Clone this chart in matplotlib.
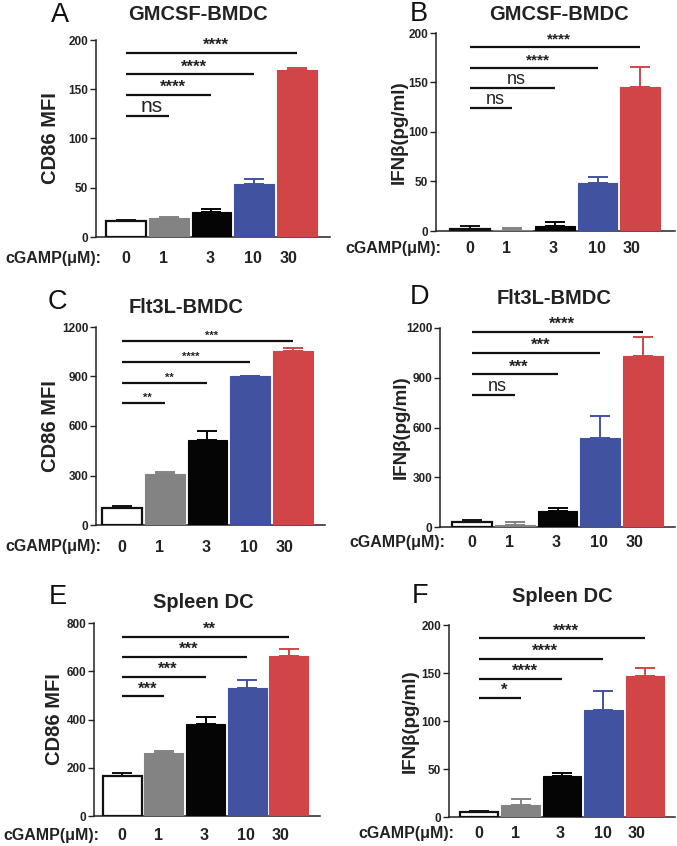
import numpy as np
import matplotlib
matplotlib.use("Agg")
import matplotlib.pyplot as plt

plt.rcParams['font.family'] = ['Liberation Sans', 'DejaVu Sans']

doses = ['0', '1', '3', '10', '30']
bar_colors = ['white', '#838383', '#050505', '#4152a0', '#d14546']
err_colors = ['#111111', '#838383', '#050505', '#4152a0', '#d14546']

# CD86 MFI / IFNb values (mean, upper error)
cd86_gm = [16, 19.5, 25.5, 54, 170]
cd86_gm_err = [1.5, 0.8, 3, 4.5, 2]
ifn_gm = [2.5, 1, 5.5, 48.5, 145.5]
ifn_gm_err = [2.5, 2, 3.5, 6.5, 20.5]
cd86_flt = [105, 309, 518, 902, 1057]
cd86_flt_err = [10, 12, 53, 4, 16]
ifn_flt = [32, 14, 97, 535, 1034]
ifn_flt_err = [12, 16, 16, 134, 113]
cd86_sp = [166, 260, 382, 530, 662]
cd86_sp_err = [14, 8, 29, 32, 29]
ifn_sp = [5.5, 13, 43, 111, 147]
ifn_sp_err = [1, 5.5, 2.5, 20.5, 8]

# significance brackets (height, label), bar 0 vs bar 1..4
sig_a = [123, 144, 165, 187]
sig_a_lab = ['ns', '****', '****', '****']
sig_b = [124, 144, 165, 186]
sig_b_lab = ['ns', 'ns', '****', '****']
sig_c = [740, 861, 990, 1115]
sig_c_lab = ['**', '**', '****', '***']
sig_d = [798, 921, 1050, 1178]
sig_d_lab = ['ns', '***', '***', '****']
sig_e = [496, 576, 659, 742]
sig_e_lab = ['***', '***', '***', '**']
sig_f = [124, 144, 165, 186]
sig_f_lab = ['*', '****', '****', '****']

W, H = 677, 846
fig = plt.figure(figsize=(W / 100, H / 100), dpi=100)

panels = [
    # letter, title, ylabel, vals, errs, sig, siglab, box(l,t,r,b), gaps, yticks,
    # star size, ns size, dose label y px, letter pos, title pos, ylabel centre offset px
    ('A', 'GMCSF-BMDC', 'CD86 MFI', cd86_gm, cd86_gm_err, sig_a, sig_a_lab,
     (96, 40, 330, 237), (10, 13), [0, 50, 100, 150, 200], 12, 15, 258, (60, 15), (198, 15), 46),
    ('B', 'GMCSF-BMDC', 'IFNβ(pg/ml)', ifn_gm, ifn_gm_err, sig_b, sig_b_lab,
     (436, 33, 675, 231), (14, 15), [0, 50, 100, 150, 200], 11, 13, 248, (419, 14), (559, 15), 38),
    ('C', 'Flt3L-BMDC', 'CD86 MFI', cd86_flt, cd86_flt_err, sig_c, sig_c_lab,
     (96, 327, 325, 525), (6, 12), [0, 300, 600, 900, 1200], 8, 13, 547, (57, 302), (186, 307), 46),
    ('D', 'Flt3L-BMDC', 'IFNβ(pg/ml)', ifn_flt, ifn_flt_err, sig_d, sig_d_lab,
     (440, 328, 675, 527), (12, 12), [0, 300, 600, 900, 1200], 12, 13, 542, (419, 297), (554, 298), 40),
    ('E', 'Spleen DC', 'CD86 MFI', cd86_sp, cd86_sp_err, sig_e, sig_e_lab,
     (94, 623, 320, 816), (9, 12), [0, 200, 400, 600, 800], 12, 13, 835, (58, 597), (203, 603), 40),
    ('F', 'Spleen DC', 'IFNβ(pg/ml)', ifn_sp, ifn_sp_err, sig_f, sig_f_lab,
     (449, 625, 675, 817), (11, 11), [0, 50, 100, 150, 200], 12, 13, 833, (420, 596), (562, 597), 40),
]

x = np.arange(5)
bw = 0.93
tick_pos = [0, 0.87, 1.96, 2.98, 3.8]

for (letter, title, ylab, vals, errs, sig, siglab, box, gaps, yt, ssize, nsize,
     lab_y, let_pos, tit_pos, yl_off) in panels:
    l, t, r, b = box
    ax = fig.add_axes([l / W, 1 - b / H, (r - l) / W, (b - t) / H])
    ax.bar(x, vals, width=bw, color=bar_colors, edgecolor=['#111111'] + bar_colors[1:],
           linewidth=[1.6, 0.8, 0.8, 0.8, 0.8], zorder=3)
    for i in range(5):
        ax.errorbar(x[i], vals[i], yerr=[[0], [errs[i]]], fmt='none', ecolor=err_colors[i],
                    elinewidth=1.4, capsize=7, capthick=1.4, zorder=2)
    ax.set_xlim(-bw / 2 - gaps[0] / 42.5, 4 + bw / 2 + gaps[1] / 42.5)
    ax.set_ylim(0, yt[-1])
    ax.set_yticks(yt)
    ax.set_yticklabels([str(v) for v in yt], fontsize=8.5, fontweight='bold', color='#222222')
    pad_px = lab_y - b - 7
    ax.set_xticks(tick_pos)
    ax.set_xticklabels(doses, fontsize=11.5, fontweight='bold', color='#222222')
    ax.tick_params(axis='x', length=0, pad=pad_px * 0.72)
    ax.tick_params(axis='y', length=4, width=1, pad=1.5, color='#222222')
    for s in ['top', 'right']:
        ax.spines[s].set_visible(False)
    for s in ['left', 'bottom']:
        ax.spines[s].set_linewidth(1.1)
        ax.spines[s].set_color('#222222')
    ylsize = 14.5 if ylab.startswith('CD86') else 13.5
    ax.set_ylabel(ylab, fontsize=ylsize, fontweight='bold', color='#222222')
    ax.yaxis.set_label_coords(-(yl_off - 10) / (r - l), 0.5)

    for k in range(4):
        ax.plot([0, k + 1], [sig[k], sig[k]], color='#111111', lw=1.6, solid_capstyle='butt',
                clip_on=False, zorder=4)
        if siglab[k] == 'ns':
            ax.text((k + 1) / 2 + 0.1, sig[k], 'ns', ha='center', va='bottom', fontsize=nsize,
                    color='#222222')
        else:
            ax.text((k + 1) / 2 + 0.1, sig[k], siglab[k], ha='center', va='bottom',
                    fontsize=ssize, fontweight='bold', color='#222222')

    fig.text(let_pos[0] / W, 1 - let_pos[1] / H, letter, ha='center', va='center',
             fontsize=19.5, color='#111111')
    fig.text(tit_pos[0] / W, 1 - tit_pos[1] / H, title, ha='center', va='center',
             fontsize=14.5, fontweight='bold', color='#222222')
    fig.text((l + 5) / W, 1 - lab_y / H, 'cGAMP(μM):', ha='right', va='center',
             fontsize=11.5, fontweight='bold', color='#222222')

fig.savefig('out.png', dpi=100)
